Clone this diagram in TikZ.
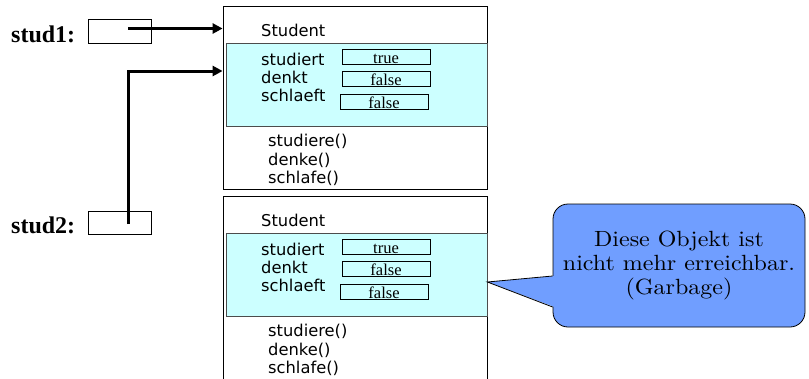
\documentclass[tikz,border=0pt]{standalone}
\usepackage{fontspec}
\newfontfamily\uisans{DejaVu Sans}
\newfontfamily\uiserif{Liberation Serif}
\newfontfamily\notefont{lmroman10-regular}[Extension=.otf, FakeStretch=1.09]
\usetikzlibrary{arrows.meta}
\definecolor{fieldcyan}{RGB}{204,255,255}
\definecolor{bubbleblue}{RGB}{112,158,255}
\tikzset{
  objbox/.style={draw, line width=0.8pt, minimum width=264pt, inner sep=0pt},
  fieldband/.style={draw=black!70, line width=0.8pt, fill=fieldcyan, minimum width=261pt, minimum height=83pt, inner sep=0pt},
  member/.style={anchor=base west, inner sep=0pt, font=\uisans\fontsize{16.3}{17}\selectfont},
  valbox/.style={draw, line width=0.8pt, minimum width=88pt, minimum height=15pt, inner sep=0pt, text height=13pt, text depth=0pt, font=\uiserif\fontsize{16.5}{16}\selectfont},
  varlabel/.style={anchor=base west, inner sep=0pt, font=\uiserif\bfseries\fontsize{24}{24}\selectfont},
  refbox/.style={draw, line width=0.8pt, minimum width=63pt, minimum height=24pt, inner sep=0pt},
  refline/.style={line width=3pt, -{Triangle[length=10pt,width=10pt]}},
  bubble/.style={draw, line width=0.8pt, fill=bubbleblue, rounded corners=15pt, minimum width=252pt, minimum height=123pt, align=center, font=\notefont\fontsize{22}{24}\selectfont}
}
\begin{document}
\begin{tikzpicture}[x=1pt,y=-1pt]
\useasboundingbox (0,0) rectangle (809,378);
% first object
\node[objbox, minimum height=183pt] (o1) at (355,97.5) {};
\node[fieldband] (o1f) at (356.5,84.5) {};
\node[member] (o1cls) at (261,36) {Student};
\node[member] (o1a) at (261,65) {studiert};
\node[member] (o1b) at (261,83) {denkt};
\node[member] (o1c) at (261,101) {schlaeft};
\node[valbox] (o1va) at (386,56.5) {true};
\node[valbox] (o1vb) at (386,79) {false};
\node[valbox] (o1vc) at (384,101.5) {false};
\node[member] (o1m1) at (268,146) {studiere()};
\node[member] (o1m2) at (268,165) {denke()};
\node[member] (o1m3) at (268,183) {schlafe()};
% second object
\node[objbox, minimum height=190pt] (o2) at (355,291) {};
\node[fieldband] (o2f) at (356.5,274.5) {};
\node[member] (o2cls) at (261,226) {Student};
\node[member] (o2a) at (261,255) {studiert};
\node[member] (o2b) at (261,273) {denkt};
\node[member] (o2c) at (261,291) {schlaeft};
\node[valbox] (o2va) at (386,246.5) {true};
\node[valbox] (o2vb) at (386,269) {false};
\node[valbox] (o2vc) at (384,291.5) {false};
\node[member] (o2m1) at (268,336) {studiere()};
\node[member] (o2m2) at (268,355) {denke()};
\node[member] (o2m3) at (268,373) {schlafe()};
% variables
\node[varlabel] (s1) at (11,42) {stud1:};
\node[refbox] (r1) at (119.5,31) {};
\node[varlabel] (s2) at (11,233) {stud2:};
\node[refbox, minimum height=23pt] (r2) at (119.5,222.5) {};
\coordinate (r1p) at (128,28.5);
\coordinate (r2p) at (128,224);
\draw[refline] (r1p) -- (r1p -| o1.west);
\draw[refline] (r2p) |- (o1.west |- 0,71);
% note
\node[bubble] (note) at (679,265.5) {Diese Objekt ist\\nicht mehr erreichbar.\\(Garbage)};
\coordinate (tip) at (o2f.east |- 0,282);
\coordinate (nb1) at (note.west |- 0,276);
\coordinate (nb2) at (note.west |- 0,307);
\fill[bubbleblue] ([xshift=2pt]nb1) -- (tip) -- ([xshift=2pt]nb2) -- cycle;
\draw[line width=0.8pt] (nb1) -- (tip) -- (nb2);
\end{tikzpicture}
\end{document}
